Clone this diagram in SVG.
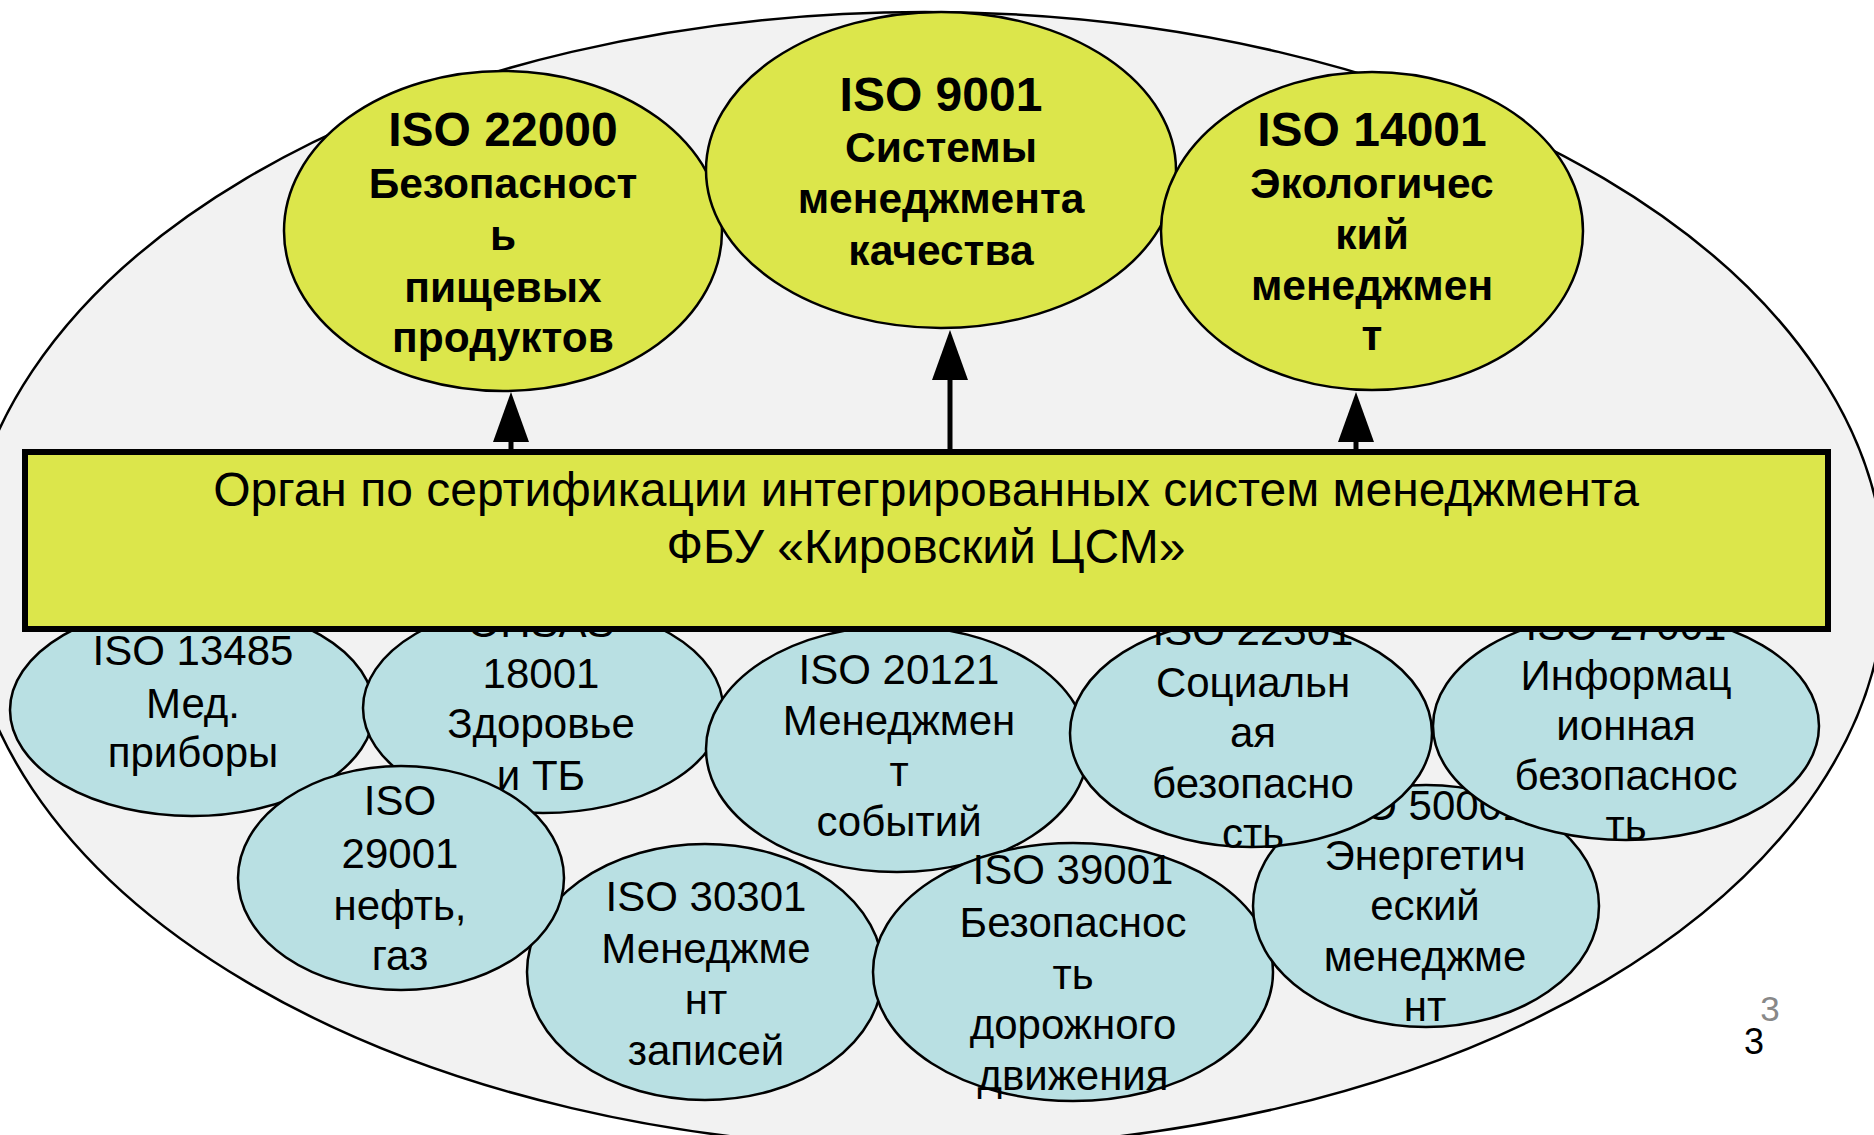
<svg xmlns="http://www.w3.org/2000/svg" width="1874" height="1135" viewBox="0 0 1874 1135">
<style>
.bg{fill:#f2f2f2;stroke:#000;stroke-width:2.5}
.top{fill:#dce64b;stroke:#000;stroke-width:2.5}
.low{fill:#b9e0e3;stroke:#000;stroke-width:2.5}
.box{fill:#dce64b;stroke:#000;stroke-width:6}
text{font-family:"Liberation Sans",Arial,sans-serif;fill:#000;text-anchor:middle}
.h{font-size:48px;font-weight:bold}
.b{font-size:42.5px;font-weight:bold}
.t{font-size:42px}
.bx{font-size:48px}
.conn{stroke:#000;stroke-width:5;fill:none}
</style>
<defs>
<marker id="ah" markerUnits="userSpaceOnUse" markerWidth="52" markerHeight="38" refX="0" refY="19" orient="auto">
<path d="M0,1 L50,19 L0,37 Z" fill="#000"/>
</marker>
</defs>
<ellipse class="bg" cx="925" cy="580" rx="960" ry="568"/>
<g id="iso22000">
<ellipse class="top" cx="503" cy="231" rx="219" ry="160"/>
<text class="h" x="503" y="146">ISO 22000</text>
<text class="b" x="503" y="198">Безопасност</text>
<text class="b" x="503" y="250">ь</text>
<text class="b" x="503" y="302">пищевых</text>
<text class="b" x="503" y="352">продуктов</text>
</g>
<g id="iso9001">
<ellipse class="top" cx="941" cy="170" rx="235" ry="158"/>
<text class="h" x="941" y="111">ISO 9001</text>
<text class="b" x="941" y="162">Системы</text>
<text class="b" x="941" y="213">менеджмента</text>
<text class="b" x="941" y="265">качества</text>
</g>
<g id="iso14001">
<ellipse class="top" cx="1372" cy="231" rx="211" ry="159"/>
<text class="h" x="1372" y="146">ISO 14001</text>
<text class="b" x="1372" y="198">Экологичес</text>
<text class="b" x="1372" y="249">кий</text>
<text class="b" x="1372" y="300">менеджмен</text>
<text class="b" x="1372" y="350">т</text>
</g>
<g id="iso13485">
<ellipse class="low" cx="192" cy="710" rx="182" ry="106"/>
<text class="t" x="193" y="665">ISO 13485</text>
<text class="t" x="193" y="718">Мед.</text>
<text class="t" x="193" y="767">приборы</text>
</g>
<g id="ohsas18001">
<ellipse class="low" cx="543" cy="708" rx="180" ry="105"/>
<text class="t" x="541" y="637">OHSAS</text>
<text class="t" x="541" y="688">18001</text>
<text class="t" x="541" y="738">Здоровье</text>
<text class="t" x="541" y="790">и ТБ</text>
</g>
<g id="iso20121">
<ellipse class="low" cx="897" cy="749" rx="191" ry="123"/>
<text class="t" x="899" y="684">ISO 20121</text>
<text class="t" x="899" y="735">Менеджмен</text>
<text class="t" x="899" y="786">т</text>
<text class="t" x="899" y="836">событий</text>
</g>
<g id="iso30301">
<ellipse class="low" cx="705" cy="972" rx="178" ry="128"/>
<text class="t" x="706" y="911">ISO 30301</text>
<text class="t" x="706" y="963">Менеджме</text>
<text class="t" x="706" y="1014">нт</text>
<text class="t" x="706" y="1065">записей</text>
</g>
<g id="iso29001">
<ellipse class="low" cx="401" cy="878" rx="163" ry="112"/>
<text class="t" x="400" y="815">ISO</text>
<text class="t" x="400" y="868">29001</text>
<text class="t" x="400" y="920">нефть,</text>
<text class="t" x="400" y="970">газ</text>
</g>
<g id="iso39001">
<ellipse class="low" cx="1073" cy="972" rx="200" ry="129"/>
<text class="t" x="1073" y="884">ISO 39001</text>
<text class="t" x="1073" y="937">Безопаснос</text>
<text class="t" x="1073" y="989">ть</text>
<text class="t" x="1073" y="1039">дорожного</text>
<text class="t" x="1073" y="1090">движения</text>
</g>
<g id="iso50001">
<ellipse class="low" cx="1426" cy="906" rx="173" ry="121"/>
<text class="t" x="1425" y="820">ISO 50001</text>
<text class="t" x="1425" y="870">Энергетич</text>
<text class="t" x="1425" y="920">еский</text>
<text class="t" x="1425" y="971">менеджме</text>
<text class="t" x="1425" y="1021">нт</text>
</g>
<g id="iso22301">
<ellipse class="low" cx="1251" cy="733" rx="181" ry="114"/>
<text class="t" x="1253" y="645">ISO 22301</text>
<text class="t" x="1253" y="697">Социальн</text>
<text class="t" x="1253" y="747">ая</text>
<text class="t" x="1253" y="798">безопасно</text>
<text class="t" x="1253" y="848">сть</text>
</g>
<g id="iso27001">
<ellipse class="low" cx="1626" cy="726" rx="193" ry="114"/>
<text class="t" x="1626" y="640">ISO 27001</text>
<text class="t" x="1626" y="690">Информац</text>
<text class="t" x="1626" y="740">ионная</text>
<text class="t" x="1626" y="790">безопаснос</text>
<text class="t" x="1626" y="840">ть</text>
</g>
<g id="connectors">
<line class="conn" x1="511" y1="452" x2="511" y2="442" marker-end="url(#ah)"/>
<line class="conn" x1="950" y1="452" x2="950" y2="380" marker-end="url(#ah)"/>
<line class="conn" x1="1356" y1="452" x2="1356" y2="442" marker-end="url(#ah)"/>
</g>
<g id="organ">
<rect class="box" x="25" y="452" width="1803" height="177"/>
<text class="bx" x="926" y="506">Орган по сертификации интегрированных систем менеджмента</text>
<text class="bx" x="926" y="563">ФБУ «Кировский ЦСМ»</text>
</g>
<g id="page-number">
<text x="1770" y="1021" style="font-size:35px;fill:#888888">3</text>
<text x="1754" y="1054" style="font-size:36px">3</text>
</g>
</svg>
